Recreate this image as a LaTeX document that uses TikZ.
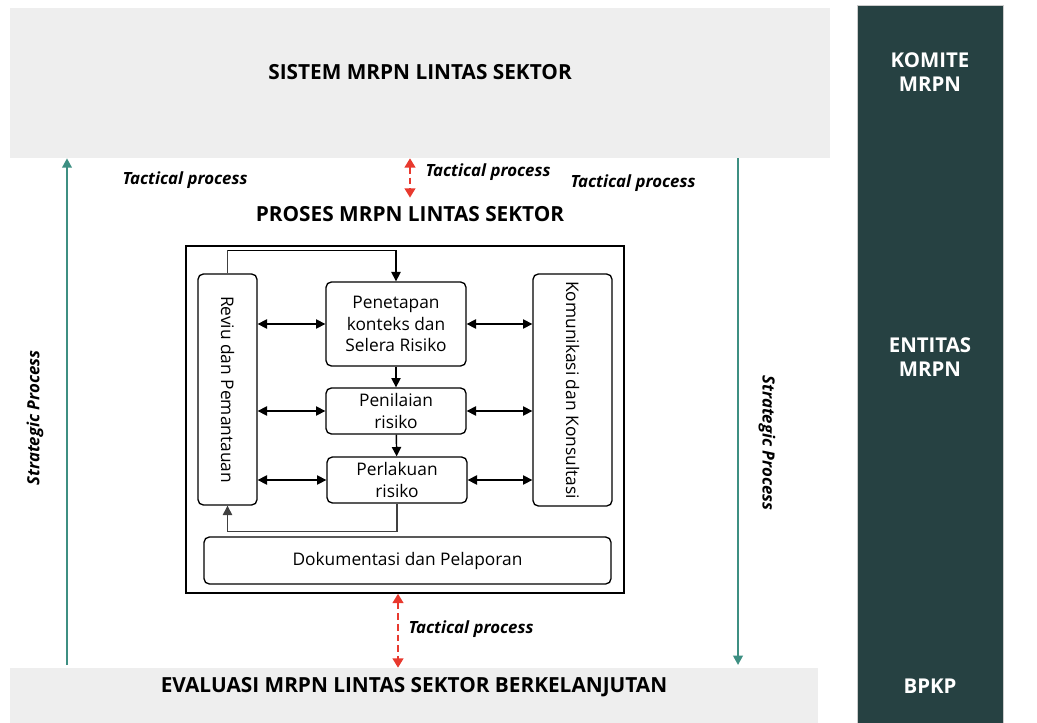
\documentclass[tikz,border=0pt]{standalone}
\usepackage{fontspec}
\setmainfont{Open Sans}
\usetikzlibrary{arrows.meta,positioning}
\definecolor{abu}{HTML}{EEEEEE}
\definecolor{hijaugelap}{HTML}{264142}
\definecolor{toska}{HTML}{3D8F82}
\definecolor{merah}{HTML}{E8392E}
\tikzset{
  panel/.style={fill=abu,draw=none,inner sep=0pt},
  judul/.style={font=\fontsize{15.6}{17}\selectfont\bfseries},
  kotak/.style={draw=black,line width=1pt,rounded corners=4pt,align=center,inner sep=0pt,
    font=\fontsize{13}{16}\selectfont},
  panah/.style={-{Triangle[length=7pt,width=7pt]},line width=1.1pt},
  panah2/.style={{Triangle[length=7pt,width=7pt]}-{Triangle[length=7pt,width=7pt]},line width=1.1pt},
  strategis/.style={-{Triangle[length=7pt,width=7pt]},toska,line width=2pt},
  taktis/.style={{Triangle[length=7pt,width=8pt]}-{Triangle[length=7pt,width=8pt]},merah,
    dash pattern=on 5pt off 3pt,line width=1.6pt},
  ket/.style={font=\fontsize{12.6}{14}\selectfont\bfseries\itshape},
  putih/.style={text=white,align=center,font=\fontsize{15.3}{18}\selectfont\bfseries}
}
\begin{document}
\begin{tikzpicture}[x=0.75pt,y=-0.75pt]
\useasboundingbox (0,0) rectangle (1037,723);
% panel atas dan bawah
\node[panel,minimum width=615pt,minimum height=112.5pt] (sistem) at (420,83) {};
\node[judul] (sistemlabel) at (420,72) {SISTEM MRPN LINTAS SEKTOR};
\node[panel,minimum width=606pt,minimum height=41.25pt] (evaluasi) at (414,695.5) {};
\node[judul] (evaluasilabel) at (414,687) {EVALUASI MRPN LINTAS SEKTOR BERKELANJUTAN};
% kolom kanan
\node[fill=hijaugelap,draw=gray!40,minimum width=109.5pt,minimum height=538.5pt,inner sep=0pt] (kolom) at (930,364) {};
\node[putih] (komite) at (930,72) {KOMITE\\MRPN};
\node[putih] (entitas) at (930,357) {ENTITAS\\MRPN};
\node[putih] (bpkp) at (930,686) {BPKP};
% proses
\node[judul] (proses) at (410,214) {PROSES MRPN LINTAS SEKTOR};
\node[draw=black,line width=1.1pt,minimum width=328.5pt,minimum height=260.25pt,inner sep=0pt] (luar) at (405,419.5) {};
\node[kotak,minimum width=44.25pt,minimum height=173.25pt] (reviu) at (227.5,389.5) {};
\node[rotate=-90,font=\fontsize{13}{15}\selectfont] at (reviu) {Reviu dan Pemantauan};
\node[kotak,minimum width=59.25pt,minimum height=174pt] (komunikasi) at (572.5,390) {};
\node[rotate=-90,font=\fontsize{13}{15}\selectfont] at (komunikasi) {Komunikasi dan Konsultasi};
\node[kotak,minimum width=105pt,minimum height=63pt] (penetapan) at (396,324) {Penetapan\\konteks dan\\Selera Risiko};
\node[kotak,minimum width=105pt,minimum height=34.5pt] (penilaian) at (396,411) {Penilaian\\risiko};
\node[kotak,minimum width=105pt,minimum height=34.5pt] (perlakuan) at (397,480) {Perlakuan\\risiko};
\node[kotak,minimum width=305.25pt,minimum height=35.25pt] (dokumentasi) at (407.5,560.5) {Dokumentasi dan Pelaporan};
% panah dalam
\draw[panah] (penetapan) -- (penilaian);
\draw[panah] (penilaian) -- (perlakuan);
\foreach \n in {penetapan,penilaian,perlakuan}{
  \draw[panah2] (reviu.east |- \n) -- (\n.west);
  \draw[panah2] (\n.east) -- (komunikasi.west |- \n);
}
\draw[line width=0.8pt,black!75] (reviu.north) -- ++(0,-23) coordinate (atas);
\draw[panah] (atas) -| (penetapan.north);
\draw[panah,line width=0.8pt,black!75] (perlakuan.south) -- ++(0,28) -| (reviu.south);
% panah strategis
\coordinate (kiri) at (67,0);
\coordinate (kanan) at (738,0);
\draw[strategis] ([yshift=2pt]kiri |- evaluasi.north) -- (kiri |- sistem.south);
\draw[strategis] (kanan |- sistem.south) -- ([yshift=2pt]kanan |- evaluasi.north);
\node[ket,rotate=90] (strat1) at (35,418) {Strategic Process};
\node[ket,rotate=-90] (strat2) at (767,443) {Strategic Process};
% panah taktis
\draw[taktis] (sistem.south -| proses) -- ([yshift=3pt]proses.north);
\coordinate (tengah) at (398,0);
\draw[taktis] (tengah |- luar.south) -- (tengah |- evaluasi.north);
\node[ket] (tak1) at (185,180) {Tactical process};
\node[ket] (tak2) at (488,172) {Tactical process};
\node[ket] (tak3) at (633,183) {Tactical process};
\node[ket] (tak4) at (471,629) {Tactical process};
\end{tikzpicture}
\end{document}
